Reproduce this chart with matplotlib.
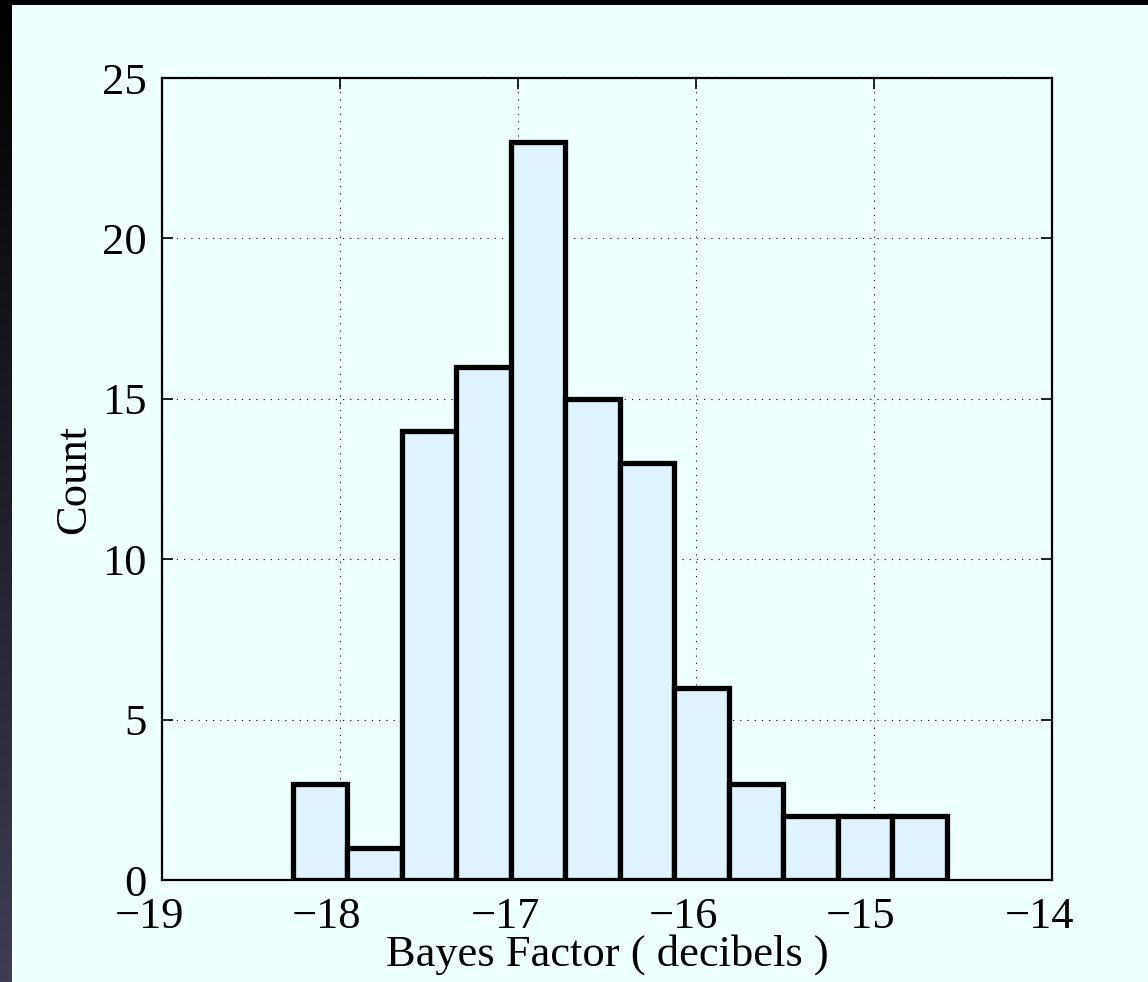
import numpy as np
import matplotlib.pyplot as plt
import matplotlib.transforms as mtransforms
from matplotlib.patches import Rectangle
from matplotlib.colors import LinearSegmentedColormap

# histogram data
bin_left = -18.264
bin_width = 0.306
counts = [3, 1, 14, 16, 23, 15, 13, 6, 3, 2, 2, 2]
xticks = [-19, -18, -17, -16, -15, -14]
yticks = [0, 5, 10, 15, 20, 25]

W, H = 1148, 982
plt.rcParams['font.family'] = ['Liberation Serif', 'DejaVu Serif']

fig = plt.figure(figsize=(W / 100, H / 100), dpi=100)
fig.patch.set_facecolor('black')

# background: dark gradient strip on the left + light panel
bg = fig.add_axes([0, 0, 1, 1], zorder=-10)
grad = np.linspace(0, 1, 256).reshape(-1, 1)
cm = LinearSegmentedColormap.from_list('strip', ['#000000', '#3e3d54'])
bg.imshow(grad, aspect='auto', cmap=cm, extent=[0, W, 0, H], origin='upper')
bg.add_patch(Rectangle((12, 0), W - 12, H - 5, facecolor='#F0FFFF',
                       edgecolor='none'))
bg.set_xlim(0, W)
bg.set_ylim(0, H)
bg.set_axis_off()

ax = fig.add_axes([162 / W, 1 - 880 / H, (1052 - 162) / W, (880 - 78) / H])
ax.set_facecolor('#F0FFFF')

edges = bin_left + bin_width * np.arange(len(counts) + 1)
ax.bar(edges[:-1], counts, width=bin_width, align='edge',
       facecolor='#E0F4FF', edgecolor='black', linewidth=3.8, zorder=3)

ax.set_xlim(-19, -14)
ax.set_ylim(0, 25)
ax.set_xticks(xticks)
ax.set_yticks(yticks)
ax.set_xticklabels(['\u2212%d' % abs(t) for t in xticks])
ax.grid(True, color='black', linestyle=(0, (1, 5.5)), linewidth=0.8, zorder=1)
ax.tick_params(direction='in', top=True, right=True, length=8, width=1.2,
               labelsize=32)
ax.tick_params(axis='x', pad=12)
ax.tick_params(axis='y', pad=11)
for s in ax.spines.values():
    s.set_linewidth(1.6)
    s.set_zorder(4)

# matlab-style: tick labels sit a bit left of the tick
shift = mtransforms.ScaledTranslation(-13 / 100, 0, fig.dpi_scale_trans)
for lbl in ax.get_xticklabels():
    lbl.set_transform(lbl.get_transform() + shift)

ax.set_xlabel('Bayes Factor ( decibels )', fontsize=32, labelpad=-2)
ax.set_ylabel('Count', fontsize=32, labelpad=6)

fig.savefig('out.png', dpi=100, facecolor=fig.get_facecolor())
